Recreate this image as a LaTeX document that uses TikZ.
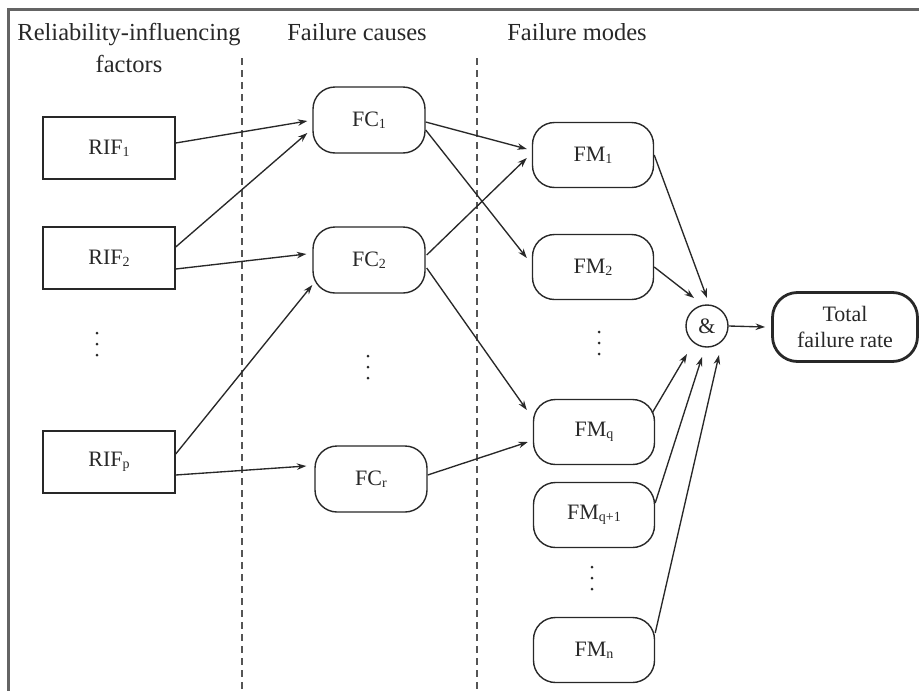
\documentclass[tikz,border=0pt]{standalone}
\usepackage{fontspec}
\setmainfont{Liberation Serif}
\usetikzlibrary{arrows.meta,calc}

\definecolor{ink}{RGB}{40,40,40}
\definecolor{framegray}{RGB}{100,100,100}
\definecolor{dashgray}{RGB}{85,85,85}

% subscript as printed in the boxes: small, slightly lowered
\newcommand\sbs[1]{\raisebox{-2pt}{\fontsize{14}{14}\selectfont #1}}

\begin{document}
\begin{tikzpicture}[x=1pt,y=-1pt,
  every node/.style={inner sep=0pt, text=ink},
  header/.style={font=\fontsize{24.5}{32}\selectfont, align=center},
  lbl/.style={font=\fontsize{22}{26}\selectfont},
  rifbox/.style={lbl, draw=ink, line width=1.4pt, rectangle,
    minimum width=132pt, minimum height=62pt},
  fcbox/.style={lbl, draw=ink, line width=1.4pt, rounded corners=22pt,
    minimum width=112pt, minimum height=66pt},
  fmbox/.style={fcbox, minimum width=121pt, minimum height=65pt},
  totalbox/.style={lbl, draw=ink, line width=2.8pt, rounded corners=25pt,
    minimum width=145pt, minimum height=69pt, align=center},
  andgate/.style={lbl, draw=ink, line width=1.4pt, circle, minimum size=42pt},
  link/.style={draw=ink, line width=1.35pt, -{Stealth[length=9.5pt,width=6.5pt]}},
  divider/.style={draw=dashgray, line width=1.9pt, dash pattern=on 7pt off 5pt},
  dot/.style={fill=ink}
]
\useasboundingbox (0,0) rectangle (919,691);

% outer frame (only top and left edges fall inside the page)
\draw[framegray, line width=2.8pt] (8.5,691) -- (8.5,9.5) -- (919,9.5);

% column headings
\node[header] (hrif) at (129,48) {Reliability-influencing\\factors};
\node[header, anchor=base] (hfc) at (357,40) {Failure causes};
\node[header, anchor=base] (hfm) at (577,40) {Failure modes};

% column dividers
\coordinate (d1top) at (242,58);
\coordinate (d1bot) at (242,691);
\coordinate (d2top) at (477,58);
\coordinate (d2bot) at (477,691);
\draw[divider] (d1top) -- (d1bot);
\draw[divider] (d2top) -- (d2bot);

% reliability-influencing factors
\node[rifbox] (rif1) at (109,148) {RIF\sbs{1}};
\node[rifbox] (rif2) at (109,258) {RIF\sbs{2}};
\node[rifbox] (rifp) at (109,462) {RIF\sbs{p}};

% failure causes
\node[fcbox] (fc1) at (369,120) {FC\sbs{1}};
\node[fcbox] (fc2) at (369,260) {FC\sbs{2}};
\node[fcbox] (fcr) at (371,479) {FC\sbs{r}};

% failure modes
\node[fmbox] (fm1)  at (593,155) {FM\sbs{1}};
\node[fmbox] (fm2)  at (593,267) {FM\sbs{2}};
\node[fmbox] (fmq)  at (594,432) {FM\sbs{q}};
\node[fmbox] (fmq1) at (594,515) {FM\sbs{q+1}};
\node[fmbox] (fmn)  at (594,650) {FM\sbs{n}};

% vertical ellipses between the boxes
\foreach \cx/\cy in {97/344, 368/367, 599/343, 592/578}
  \foreach \k in {-11,0,11}
    \fill[dot] (\cx,\cy+\k) circle (1.5pt);

% combination and result
\node[andgate] (amp) at (707,326) {\&};
\node[totalbox] (total) at (845,327) {Total\\failure rate};

% RIF -> FC
\draw[link] ($(rif1.east)+(0,-5)$)  -- ($(fc1.west)+(-5,1)$);
\draw[link] ($(rif2.east)+(0,-11)$) -- ($(fc1.west)+(-5,13)$);
\draw[link] ($(rif2.east)+(0,11)$)  -- ($(fc2.west)+(-6,-6)$);
\draw[link] ($(rifp.east)+(0,-8)$)  -- ($(fc2.west)+(0,25)$);
\draw[link] ($(rifp.east)+(0,13)$)  -- ($(fcr.west)+(-8,-13)$);

% FC -> FM
\draw[link] ($(fc1.east)+(0,2)$)  -- ($(fm1.west)+(-5,-6)$);
\draw[link] ($(fc1.east)+(0,10)$) -- ($(fm2.west)+(-5,-9)$);
\draw[link] ($(fc2.east)+(1,-5)$) -- ($(fm1.west)+(-5,3)$);
\draw[link] ($(fc2.east)+(1,8)$)  -- ($(fmq.west)+(-6,-22)$);
\draw[link] ($(fcr.east)+(0,-4)$) -- ($(fmq.west)+(-5,10)$);

% FM -> &
\draw[link] (fm1.east) -- ($(amp.center)+(0,-28)$);
\draw[link] (fm2.east) -- ($(amp.center)+(-13,-28)$);
\draw[link] ($(fmq.east)+(-3,-19)$)  -- ($(amp.center)+(-20,28)$);
\draw[link] ($(fmq1.east)+(0,-12)$)  -- ($(amp.center)+(-5,31)$);
\draw[link] ($(fmn.east)+(0,-17)$)   -- ($(amp.center)+(12,29)$);

% & -> total
\draw[link] (amp.east) -- ($(total.west)+(-6,0)$);
\end{tikzpicture}
\end{document}
